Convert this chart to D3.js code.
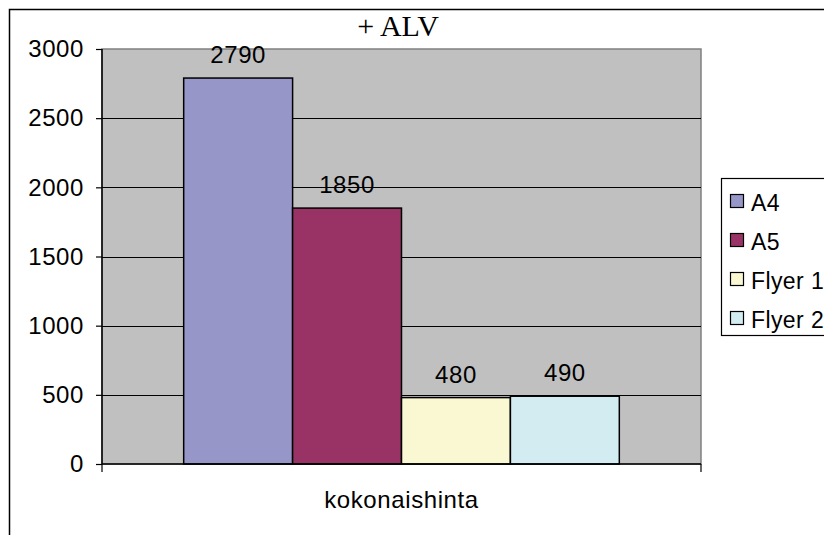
<!DOCTYPE html>
<html>
<head>
<meta charset="utf-8">
<script src="https://cdn.jsdelivr.net/npm/d3@7"></script>
<style>
  html, body { margin: 0; padding: 0; background: #fff; }
  svg { display: block; }
</style>
</head>
<body>
<svg id="chart" width="824" height="535"></svg>
<script>
// Chart data
const title = "+ ALV";
const categories = ["kokonaishinta"];
const seriesNames = ["A4", "A5", "Flyer 1", "Flyer 2"];
const seriesValues = [2790, 1850, 480, 490];
const seriesColors = ["#9696c8", "#993366", "#faf8d2", "#d3ecf2"];
const yTicks = [0, 500, 1000, 1500, 2000, 2500, 3000];

const FONT = "Liberation Sans, Arial, sans-serif";
const FS = 24;
const LS = 0.6;

const svg = d3.select("#chart");
const plot = { left: 102, right: 701, top: 49, bottom: 464 };

// Outer chart frame
svg.append("rect")
  .attr("x", 9.5).attr("y", 9.5)
  .attr("width", 840).attr("height", 560)
  .attr("fill", "#fff").attr("stroke", "#000").attr("stroke-width", 1.5);

// Scales
const y = d3.scaleLinear().domain([0, 3000]).range([plot.bottom, plot.top]);
const x = d3.scaleBand().domain(categories).range([plot.left, plot.right]);
const xs = d3.scaleBand().domain(seriesNames)
  .range([0, x.bandwidth()]).paddingInner(0).paddingOuter(0.75);

// Plot background
svg.append("rect")
  .attr("x", plot.left).attr("y", plot.top)
  .attr("width", plot.right - plot.left).attr("height", plot.bottom - plot.top)
  .attr("fill", "#c0c0c0").attr("stroke", "#808080").attr("stroke-width", 1.5);

// Horizontal gridlines
svg.append("g").selectAll("line")
  .data(yTicks.filter(t => t > 0 && t < 3000))
  .join("line")
  .attr("x1", plot.left).attr("x2", plot.right)
  .attr("y1", d => Math.round(y(d)) + 0.5).attr("y2", d => Math.round(y(d)) + 0.5)
  .attr("stroke", "#000").attr("stroke-width", 1);

// Bars
const groups = svg.append("g").selectAll("g")
  .data(categories).join("g")
  .attr("transform", d => `translate(${x(d)},0)`);

groups.selectAll("rect")
  .data(seriesNames.map((n, i) => ({ name: n, value: seriesValues[i], color: seriesColors[i] })))
  .join("rect")
  .attr("x", d => xs(d.name))
  .attr("y", d => y(d.value))
  .attr("width", xs.bandwidth())
  .attr("height", d => y(0) - y(d.value))
  .attr("fill", d => d.color)
  .attr("stroke", "#000").attr("stroke-width", 1.5);

// Value labels
groups.selectAll("text")
  .data(seriesNames.map((n, i) => ({ name: n, value: seriesValues[i] })))
  .join("text")
  .attr("x", d => xs(d.name) + xs.bandwidth() / 2)
  .attr("y", d => y(d.value) - 15)
  .attr("text-anchor", "middle")
  .attr("font-family", FONT)
  .attr("font-size", FS)
  .attr("letter-spacing", LS)
  .attr("fill", "#000")
  .text(d => d.value);

// Y axis
const yAxis = d3.axisLeft(y).tickValues(yTicks).tickFormat(d3.format("d")).tickSize(6).tickPadding(12);
const yg = svg.append("g").attr("transform", `translate(${plot.left},0)`).call(yAxis);
yg.select(".domain").attr("stroke", "#000").attr("stroke-width", 1.5).attr("d", `M0,${plot.top}V${plot.bottom}`);
yg.selectAll(".tick line").attr("stroke", "#000").attr("stroke-width", 1.2);
yg.selectAll(".tick text")
  .attr("font-family", FONT)
  .attr("font-size", FS).attr("letter-spacing", LS).attr("fill", "#000");

// X axis
const xAxis = d3.axisBottom(x).tickSize(0).tickPadding(0).tickFormat("");
const xg = svg.append("g").attr("transform", `translate(0,${plot.bottom})`).call(xAxis);
xg.select(".domain").attr("stroke", "#000").attr("stroke-width", 1.5).attr("d", `M${plot.left},0H${plot.right}`);
xg.selectAll(".tick").remove();
// Category boundary ticks
xg.selectAll("line.bound")
  .data([plot.left, plot.right])
  .join("line").attr("class", "bound")
  .attr("x1", d => d).attr("x2", d => d)
  .attr("y1", 0).attr("y2", 8)
  .attr("stroke", "#000").attr("stroke-width", 1.2);

// Category label
svg.append("g").selectAll("text")
  .data(categories).join("text")
  .attr("x", d => x(d) + x.bandwidth() / 2)
  .attr("y", 508)
  .attr("text-anchor", "middle")
  .attr("font-family", FONT)
  .attr("font-size", FS)
  .attr("letter-spacing", LS)
  .attr("fill", "#000")
  .text(d => d);

// Title
svg.append("text")
  .attr("x", 398).attr("y", 36)
  .attr("text-anchor", "middle")
  .attr("font-family", "Liberation Serif, Times New Roman, serif")
  .attr("font-size", 30)
  .attr("fill", "#000")
  .text(title);

// Legend
const legend = svg.append("g").attr("transform", "translate(721,178)");
legend.append("rect")
  .attr("x", 0.5).attr("y", 0.5).attr("width", 140).attr("height", 157)
  .attr("fill", "#fff").attr("stroke", "#000").attr("stroke-width", 1.2);

const items = legend.selectAll("g.item")
  .data(seriesNames.map((n, i) => ({ name: n, color: seriesColors[i] })))
  .join("g").attr("class", "item")
  .attr("transform", (d, i) => `translate(0,${25 + i * 39})`);

items.append("rect")
  .attr("x", 9.5).attr("y", -8.5).attr("width", 13).attr("height", 13)
  .attr("fill", d => d.color).attr("stroke", "#000").attr("stroke-width", 1.2);

items.append("text")
  .attr("x", 30).attr("y", 8)
  .attr("font-family", FONT)
  .attr("font-size", 23)
  .attr("letter-spacing", 0.4)
  .attr("fill", "#000")
  .text(d => d.name);
</script>
</body>
</html>
